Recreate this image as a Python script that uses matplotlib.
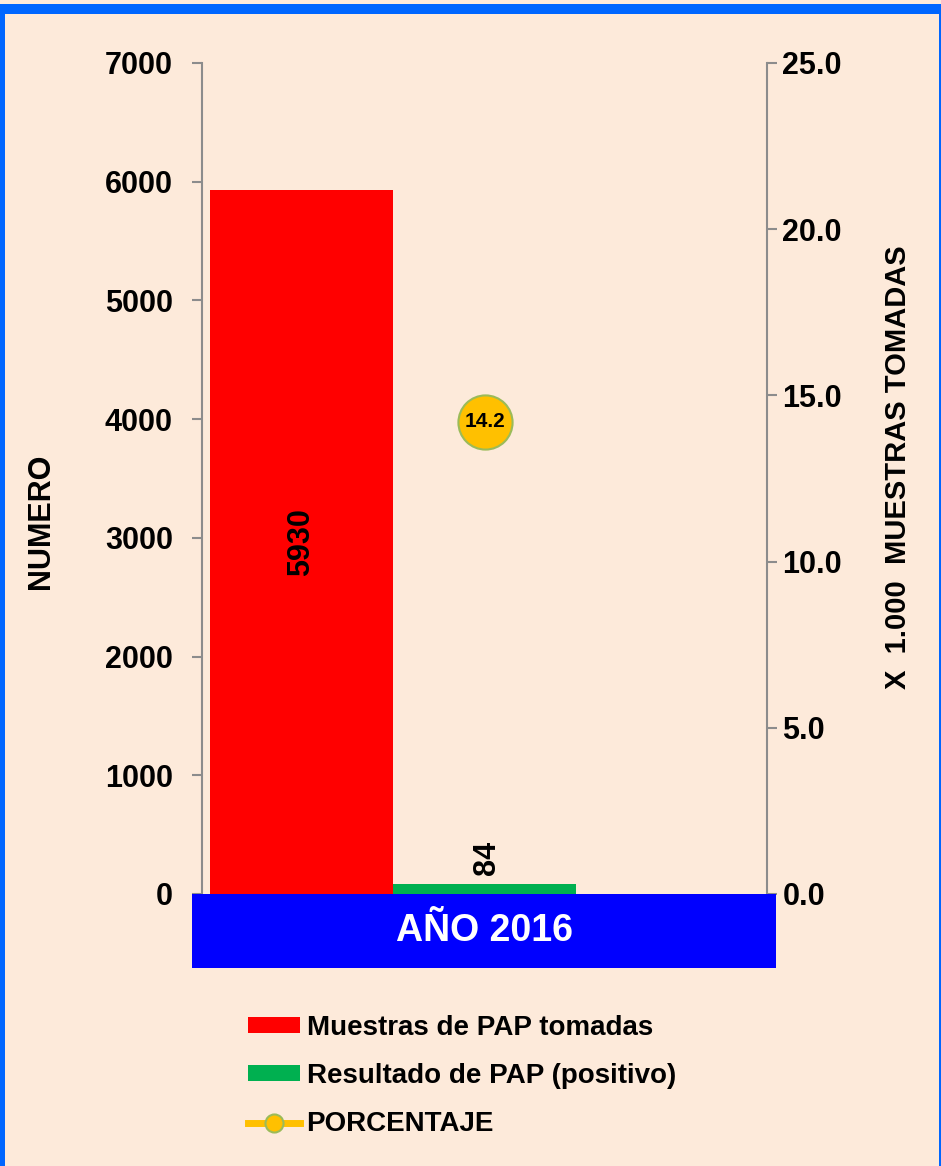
import numpy as np
import matplotlib.pyplot as plt
from matplotlib.patches import Patch, Rectangle
from matplotlib.lines import Line2D

# data
year_label = 'AÑO 2016'
series_names = ['Muestras de PAP tomadas', 'Resultado de PAP (positivo)', 'PORCENTAJE']
muestras = [5930]
positivos = [84]
porcentaje = [14.2]
left_ticks = [0, 1000, 2000, 3000, 4000, 5000, 6000, 7000]
right_ticks = [0.0, 5.0, 10.0, 15.0, 20.0, 25.0]

peach = '#FDEADA'
gray = '#8C8C8C'
plt.rcParams['font.family'] = ['Liberation Sans', 'DejaVu Sans']
plt.rcParams['font.weight'] = 'bold'

fig = plt.figure(figsize=(9.41, 11.66), dpi=100, facecolor=peach)
ax = fig.add_axes([0.2147, 0.2333, 0.6004, 0.7127])
ax.set_facecolor(peach)

x = np.arange(len(muestras))
w = 0.324
ax.bar(x - w, muestras, width=w, align='center', color='#FF0000', zorder=2)
ax.bar(x, positivos, width=w, align='center', color='#00B050', zorder=2)
ax.set_xlim(-0.5, 0.5)
ax.set_ylim(0, 7000)
ax.set_yticks(left_ticks)
ax.set_yticklabels([str(t) for t in left_ticks], fontsize=22, fontweight='bold')
ax.set_xticks([])

for xi, v in zip(x, muestras):
    ax.text(xi - w, v / 2, str(v), rotation=90, ha='center', va='center',
            fontsize=22, fontweight='bold', zorder=3)
for xi, v in zip(x, positivos):
    ax.text(xi + 0.005, v + 80, str(v), rotation=90, ha='center', va='bottom',
            fontsize=22, fontweight='bold', zorder=3)

ax2 = ax.twinx()
ax2.set_ylim(0, 25)
ax2.set_yticks(right_ticks)
ax2.set_yticklabels([f'{t:.1f}' for t in right_ticks], fontsize=22, fontweight='bold')
ax2.plot(x, porcentaje, color='#FFC000', lw=5, marker='o', ms=39,
         mfc='#FFC000', mec='#9BBB59', mew=1.5, zorder=4)
for xi, v in zip(x, porcentaje):
    ax2.text(xi, v, f'{v:.1f}', ha='center', va='center', fontsize=15,
             fontweight='bold', zorder=5)

for a in (ax, ax2):
    for s in ('top', 'bottom'):
        a.spines[s].set_visible(False)
    a.tick_params(axis='y', color=gray, width=1.5, length=7)
ax.spines['right'].set_visible(False)
ax.spines['left'].set_color(gray)
ax.spines['left'].set_linewidth(1.5)
ax2.spines['left'].set_visible(False)
ax2.spines['right'].set_color(gray)
ax2.spines['right'].set_linewidth(1.5)
ax.tick_params(axis='y', pad=14)
ax2.tick_params(axis='y', pad=4)

ax.set_ylabel('NUMERO', fontsize=22, fontweight='bold')
ax.yaxis.set_label_coords(-0.258, 0.448)
ax2.set_ylabel('X  1.000  MUESTRAS TOMADAS', fontsize=21, fontweight='bold',
               rotation=90, family=['Liberation Sans Narrow', 'Liberation Sans'])
ax2.yaxis.set_label_coords(1.207, 0.514)

# category band
band = Rectangle((0.204, 0.1698), 0.6207, 0.0635, transform=fig.transFigure,
                 facecolor='#0000FF', edgecolor='none', zorder=5)
fig.patches.append(band)
fig.text(0.5146, 0.2015, year_label, color='white', fontsize=27,
         fontweight='bold', ha='center', va='center', zorder=6)

# frame
fig.patches.append(Rectangle((0, 0.9880), 1, 0.0086, transform=fig.transFigure,
                             facecolor='#0066FF', edgecolor='none', zorder=7))
fig.patches.append(Rectangle((0, 0), 0.0053, 0.9966, transform=fig.transFigure,
                             facecolor='#0066FF', edgecolor='none', zorder=7))
fig.patches.append(Rectangle((0.9979, 0), 0.0021, 0.9966, transform=fig.transFigure,
                             facecolor='#0066FF', edgecolor='none', zorder=7))

handles = [Patch(facecolor='#FF0000'), Patch(facecolor='#00B050'),
           Line2D([], [], color='#FFC000', lw=5, marker='o', ms=13,
                  mfc='#FFC000', mec='#9BBB59', mew=1.5)]
leg = fig.legend(handles, series_names, loc='upper left',
                 bbox_to_anchor=(0.252, 0.139), frameon=False,
                 prop={'size': 20, 'weight': 'bold'}, handlelength=1.85,
                 handleheight=0.5, handletextpad=0.25, labelspacing=0.8,
                 borderaxespad=0)

fig.savefig('out.png', dpi=100, facecolor=peach)
